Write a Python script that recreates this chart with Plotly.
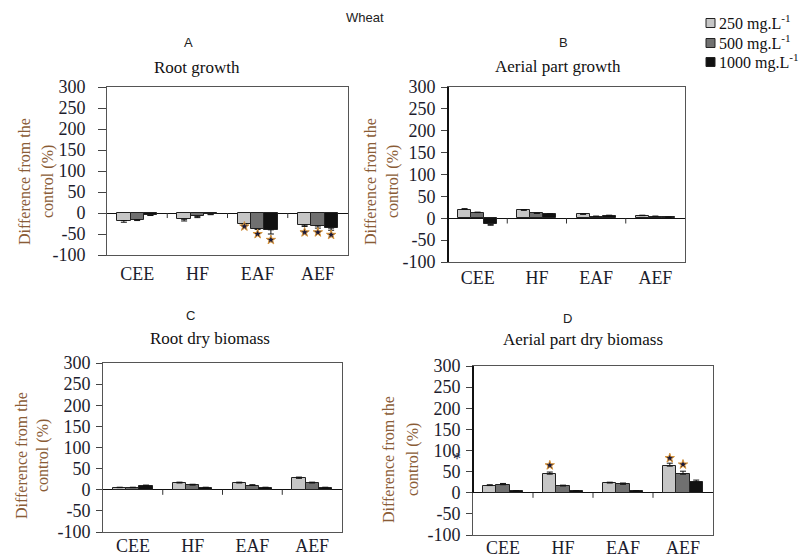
import plotly.graph_objects as go

categories = ["CEE", "HF", "EAF", "AEF"]
series_names = ["250 mg.L<sup>-1</sup>", "500 mg.L<sup>-1</sup>", "1000 mg.L<sup>-1</sup>"]
series_colors = ["#c6c6c6", "#707070", "#111111"]

# Panel A - Root growth
root_growth = [[-18, -15, -26, -29], [-16, -8, -39, -31], [-5, -3, -40, -36]]
root_growth_err = [[4, 4, 3, 3], [2, 3, 8, 5], [1, 1, 10, 5]]
# Panel B - Aerial part growth
aerial_growth = [[20, 18, 9, 6], [13, 11, 4, 4], [-14, 9, 6, 2]]
aerial_growth_err = [[2, 2, 1, 1], [1, 1, 1, 1], [2, 1, 1, 1]]
# Panel C - Root dry biomass
root_biomass = [[5, 16, 16, 27], [5, 11, 10, 16], [10, 5, 5, 5]]
root_biomass_err = [[1, 2, 2, 3], [1, 2, 2, 2], [1, 1, 1, 1]]
# Panel D - Aerial part dry biomass
aerial_biomass = [[17, 44, 23, 63], [19, 16, 20, 44], [4, 4, 4, 25]]
aerial_biomass_err = [[2, 5, 2, 7], [3, 2, 3, 7], [1, 1, 1, 5]]

# significance stars: (series index, category index, y position)
stars_a = [(0, 2, -32), (1, 2, -50), (2, 2, -64), (0, 3, -46), (1, 3, -46), (2, 3, -52)]
stars_d = [(0, 1, 65), (0, 3, 82), (1, 3, 67)]

panel_letters = ["A", "B", "C", "D"]
panel_titles = ["Root growth", "Aerial part growth", "Root dry biomass", "Aerial part dry biomass"]
y_ticks = [-100, -50, 0, 50, 100, 150, 200, 250, 300]
y_tick_labels = ["-100", "-50", "0", "50", "100", "150", "200", "250", "300"]

W, H = 805, 556
def px_x(v): return v / W
def px_y(v): return 1 - v / H

panels = [
    dict(data=root_growth, err=root_growth_err, stars=stars_a,
         box=(107, 348, 87, 255), letter=(188, 43), title=(197, 67),
         ytitle=(25, 48, 182), ticklen=8, standoff=9, catoff=2),
    dict(data=aerial_growth, err=aerial_growth_err, stars=[],
         box=(448, 685, 87, 262), letter=(563, 43), title=(558, 66),
         ytitle=(371, 393, 182), ticklen=6, standoff=2, catoff=-1),
    dict(data=root_biomass, err=root_biomass_err, stars=[],
         box=(103, 342, 363, 532), letter=(190, 315), title=(210, 338),
         ytitle=(21, 43, 456), ticklen=6, standoff=2, catoff=-3),
    dict(data=aerial_biomass, err=aerial_biomass_err, stars=stars_d,
         box=(473, 713, 366, 535), letter=(567, 318), title=(583, 339),
         ytitle=(388, 413, 460), ticklen=6, standoff=2, catoff=-4),
]

serif = "Liberation Serif, Times New Roman, serif"
sans = "Liberation Sans, Arial, sans-serif"
tick_color = "#1c1c2c"
ytitle_color = "#8a5c36"

fig = go.Figure()
bar_w = 0.22
annotations = []
shapes = []

def note(text, x, y, font, angle=0, xanchor="center"):
    annotations.append(dict(text=text, x=px_x(x), y=px_y(y), xref="paper", yref="paper",
                            xanchor=xanchor, yanchor="middle", textangle=angle,
                            showarrow=False, font=font))

for p_i, p in enumerate(panels):
    sfx = "" if p_i == 0 else str(p_i + 1)
    xref, yref = "x" + sfx, "y" + sfx
    for s_i in range(3):
        vals = p["data"][s_i]
        errs = p["err"][s_i]
        xs = [c + (s_i - 1) * bar_w for c in range(len(categories))]
        plus = [e if v >= 0 else 0 for v, e in zip(vals, errs)]
        minus = [e if v < 0 else 0 for v, e in zip(vals, errs)]
        fig.add_trace(go.Bar(
            x=xs, y=vals, width=bar_w, xaxis=xref, yaxis=yref,
            name=series_names[s_i], showlegend=False,
            marker=dict(color=series_colors[s_i], line=dict(color="#222222", width=1)),
            error_y=dict(type="data", symmetric=False, array=plus, arrayminus=minus,
                         color="#111111", thickness=1, width=3),
        ))
    if p["stars"]:
        sx = [c + (s - 1) * bar_w for s, c, y in p["stars"]]
        sy = [y for s, c, y in p["stars"]]
        fig.add_trace(go.Scatter(
            x=sx, y=sy, mode="markers", xaxis=xref, yaxis=yref, showlegend=False,
            marker=dict(symbol="star", size=7, color="#1b1b3c",
                        line=dict(color="#d9953a", width=1)),
        ))
    x0, x1, y0, y1 = p["box"]
    fig.update_layout(**{
        "xaxis" + sfx: dict(domain=[px_x(x0), px_x(x1)], range=[-0.5, 3.5], anchor=yref,
                            tickvals=list(range(len(categories))), ticktext=categories,
                            ticks="", showgrid=False, zeroline=False,
                            showline=True, mirror=True, linecolor="#555555", linewidth=1,
                            ticklabelstandoff=p["catoff"],
                            tickfont=dict(family=serif, size=18, color=tick_color)),
        "yaxis" + sfx: dict(domain=[px_y(y1), px_y(y0)], range=[-100, 300], anchor=xref,
                            tickvals=y_ticks, ticktext=y_tick_labels,
                            ticks="outside", ticklen=p["ticklen"],
                            tickcolor="#444444", showgrid=False,
                            zeroline=True, zerolinecolor="#111111", zerolinewidth=1,
                            showline=True, mirror=True, linecolor="#555555", linewidth=1,
                            ticklabelstandoff=p["standoff"],
                            tickfont=dict(family=serif, size=18, color=tick_color)),
    })
    # category separator tick marks on the zero line
    for b in range(len(categories) - 1):
        shapes.append(dict(type="line", xref=xref, yref=yref, x0=b + 0.5, x1=b + 0.5,
                           y0=0, y1=-12, line=dict(color="#333333", width=1)))
    lx, ly = p["letter"]
    note(panel_letters[p_i], lx, ly, dict(family=sans, size=13, color="#222222"))
    tx, ty = p["title"]
    note(panel_titles[p_i], tx, ty, dict(family=serif, size=17, color="#111111"))
    a1, a2, ay = p["ytitle"]
    note("Difference from the", a1, ay, dict(family=serif, size=16, color=ytitle_color), angle=-90)
    note("control (%)", a2, ay, dict(family=serif, size=16, color=ytitle_color), angle=-90)

# thicker left axis segments seen in panels B and D
shapes.append(dict(type="line", xref="x2 domain", yref="y2", x0=0, x1=0, y0=-100, y1=300,
                   line=dict(color="#111111", width=2)))
shapes.append(dict(type="line", xref="x4 domain", yref="y4", x0=0, x1=0, y0=0, y1=300,
                   line=dict(color="#111111", width=2)))

note("Wheat", 365, 17, dict(family=sans, size=13, color="#222222"))
# stray asterisk near panel D axis
note("*", 457, 458, dict(family=serif, size=16, color="#1b1b3c"))

# legend drawn as squares + labels
legend_rows = [23, 43, 62]
for s_i in range(3):
    cy = legend_rows[s_i]
    shapes.append(dict(type="rect", xref="paper", yref="paper",
                       x0=px_x(706), x1=px_x(715), y0=px_y(cy + 4.5), y1=px_y(cy - 4.5),
                       fillcolor=series_colors[s_i], line=dict(color="#222222", width=1)))
    note(series_names[s_i], 717, cy, dict(family=serif, size=16, color="#111111"), xanchor="left")

fig.update_layout(
    width=W, height=H, margin=dict(l=0, r=0, t=0, b=0, autoexpand=False),
    paper_bgcolor="white", plot_bgcolor="white",
    barmode="overlay", bargap=0, showlegend=False,
    annotations=annotations, shapes=shapes,
)

fig.write_html("out.html", config={"displayModeBar": False},
               post_script="document.body.style.margin='0';")
